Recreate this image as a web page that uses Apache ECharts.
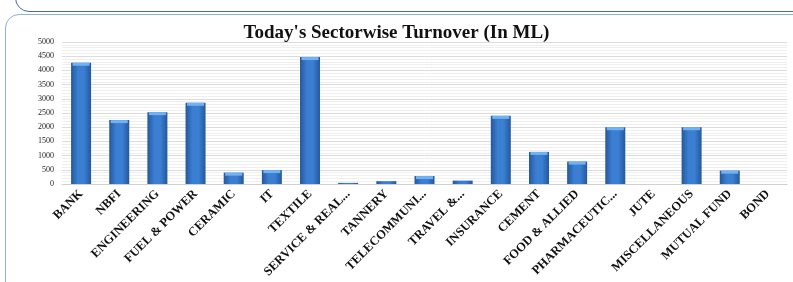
<!DOCTYPE html>
<html>
<head>
<meta charset="utf-8">
<script src="https://cdn.jsdelivr.net/npm/echarts@6/dist/echarts.min.js"></script>
<style>
  html, body { margin: 0; padding: 0; background: #fff; }
  .wrap { position: relative; width: 793px; height: 282px; overflow: hidden; }
  .top-panel { position: absolute; left: 15px; top: -30px; width: 800px; height: 40px;
    border: 1.5px solid #4a6b96; border-radius: 14px; background: #fff; }
  .main-panel { position: absolute; left: 5px; top: 14px; width: 820px; height: 300px;
    border: 1px solid #8eb0dc; border-radius: 14px; background: #fff; }
  #chart { position: absolute; left: 0; top: 0; width: 793px; height: 282px; }
</style>
</head>
<body>
<div class="wrap">
  <div class="top-panel"></div>
  <div class="main-panel"></div>
  <div id="chart"></div>
</div>
<script>
// sectors shown on the x axis (labels as printed on the chart)
const sectors = ['BANK', 'NBFI', 'ENGINEERING', 'FUEL & POWER', 'CERAMIC', 'IT', 'TEXTILE',
  'SERVICE & REAL...', 'TANNERY', 'TELECOMMUNI...', 'TRAVEL &...', 'INSURANCE', 'CEMENT',
  'FOOD & ALLIED', 'PHARMACEUTIC...', 'JUTE', 'MISCELLANEOUS', 'MUTUAL FUND', 'BOND'];
// turnover in ML
const turnover = [4270, 2250, 2530, 2860, 400, 490, 4470,
  40, 100, 280, 120, 2400, 1130,
  790, 2000, 0, 2000, 470, 0];
const yTicks = [0, 500, 1000, 1500, 2000, 2500, 3000, 3500, 4000, 4500, 5000];

const myChart = echarts.init(document.getElementById('chart'));

const barColor = new echarts.graphic.LinearGradient(0, 0, 1, 0, [
  { offset: 0, color: '#24589c' },
  { offset: 0.35, color: '#3b7fd2' },
  { offset: 0.65, color: '#3b7fd2' },
  { offset: 1, color: '#24589c' }
]);

const option = {
  animation: false,
  title: {
    text: "Today's Sectorwise Turnover (In ML)",
    left: 'center',
    top: 19,
    textStyle: {
      fontFamily: 'Liberation Serif',
      fontWeight: 'bold',
      fontSize: 19,
      color: '#111'
    }
  },
  grid: { left: 62, right: 6, top: 42, bottom: 98 },
  xAxis: {
    type: 'category',
    data: sectors,
    axisLine: { lineStyle: { color: '#d0d0d0' } },
    axisTick: { show: false },
    axisLabel: {
      interval: 0,
      rotate: 45,
      margin: 8,
      fontFamily: 'Liberation Serif',
      fontWeight: 'bold',
      fontSize: 12.5,
      color: '#111'
    }
  },
  yAxis: {
    type: 'value',
    min: yTicks[0],
    max: yTicks[yTicks.length - 1],
    interval: 500,
    axisLine: { show: false },
    axisTick: { show: false },
    axisLabel: {
      formatter: v => String(v),
      fontFamily: 'Liberation Serif',
      fontSize: 8,
      color: '#222',
      margin: 8
    },
    splitLine: { lineStyle: { color: '#dcdcdc' } },
    minorTick: { show: false, splitNumber: 5 },
    minorSplitLine: { show: true, lineStyle: { color: '#efefef' } }
  },
  series: [{
    type: 'bar',
    data: turnover,
    barWidth: 20,
    z: 2,
    itemStyle: { color: barColor }
  }, {
    // light cap on top of each bar (only where the bar is tall enough)
    type: 'pictorialBar',
    data: turnover.map(v => (v >= 150 ? v : '-')),
    symbol: 'rect',
    symbolSize: [17, 3],
    symbolPosition: 'end',
    z: 3,
    itemStyle: { color: '#72b2f2' }
  }]
};

myChart.setOption(option);
</script>
</body>
</html>
